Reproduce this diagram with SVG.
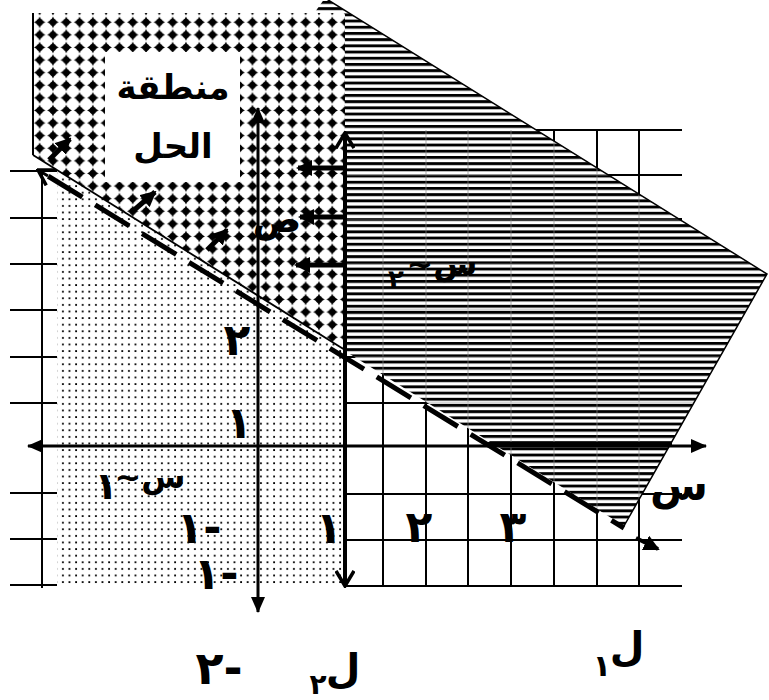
<svg xmlns="http://www.w3.org/2000/svg" width="769" height="700" viewBox="0 0 769 700">
<style>
.grid{stroke:#000;stroke-width:2;fill:none}
.faint{stroke:#888;stroke-width:1.5;opacity:.45;fill:none}
.ar{font-family:"DejaVu Sans","Noto Sans",sans-serif;font-weight:bold;fill:#000}
.axis{stroke:#000;stroke-width:3;fill:none}
</style>
<defs>
<pattern id="diam" patternUnits="userSpaceOnUse" x="33" y="16" width="13.3" height="12.6">
<rect width="13.3" height="12.6" fill="#fff"/>
<path d="M6.65,0.6 Q8.2,4.6 12.3,6.3 Q8.2,8 6.65,12 Q5.1,8 1,6.3 Q5.1,4.6 6.65,0.6 Z" fill="#000"/>
<circle cx="6.65" cy="6.3" r="3.3" fill="#000"/>
</pattern>
<pattern id="dots" patternUnits="userSpaceOnUse" x="60" y="170" width="6.6" height="6.6">
<rect width="6.6" height="6.6" fill="#fff"/>
<rect x="2" y="2" width="1.8" height="1.8" fill="#000"/>
</pattern>
<pattern id="stripes" patternUnits="userSpaceOnUse" x="0" y="1" width="10" height="6.2">
<rect width="10" height="6.2" fill="#fff"/>
<rect y="0" width="10" height="2.9" fill="#000"/>
</pattern>
<clipPath id="hclip"><polygon points="315,12 325,-2 767,274 624,526 345,351 345,12"/></clipPath>
<marker id="fa" markerUnits="userSpaceOnUse" viewBox="0 0 16 14" refX="15" refY="7" markerWidth="16" markerHeight="14" orient="auto-start-reverse">
<path d="M0,0 L16,7 L0,14 Z" fill="#000"/>
</marker>
<marker id="va" markerUnits="userSpaceOnUse" viewBox="0 0 18 20" refX="16" refY="10" markerWidth="18" markerHeight="20" orient="auto-start-reverse">
<path d="M1,1 L16,10 L1,19" fill="none" stroke="#000" stroke-width="3.5"/>
</marker>
<marker id="sa" markerUnits="userSpaceOnUse" viewBox="0 0 16 16" refX="14" refY="8" markerWidth="16" markerHeight="16" orient="auto">
<path d="M0,0 L16,8 L0,16 Z" fill="#000"/>
</marker>
</defs>

<g id="grid">
<path class="grid" d="M533,130 H682 M345,175 H682 M345,219 H682 M345,264 H682 M345,310 H682 M345,357 H682 M345,403 H682 M345,494 H682 M345,540 H682 M345,586 H682"/>
<path class="grid" d="M383,130 V586 M426,130 V586 M468,130 V586 M511,130 V586 M554,130 V586 M597,130 V586 M639,130 V586"/>
<path class="grid" d="M10,171 H57 M10,218 H57 M10,264 H57 M10,310 H57 M10,357 H57 M10,403 H57 M10,493 H57 M10,539 H57 M10,585 H57 M42,170 V588"/>
</g>

<g id="region-dots">
<polygon points="57,170 345,350 345,587 57,587" fill="url(#dots)"/>
</g>
<g id="region-solution">
<polygon points="33,13 345,13 345,350 33,155" fill="url(#diam)"/>
<path d="M33,13 V155" stroke="#000" stroke-width="2"/>
</g>
<g id="region-s2">
<polygon points="315,12 325,-2 767,274 624,526 345,351 345,12" fill="url(#stripes)"/>
<g clip-path="url(#hclip)">
<path class="faint" d="M383,130 V586 M426,130 V586 M468,130 V586 M511,130 V586 M554,130 V586 M597,130 V586 M639,130 V586 M345,175 H770 M345,219 H770 M345,264 H770 M345,310 H770 M345,357 H770 M345,403 H770"/>
</g>
<path d="M325,-2 L767,274 L624,526" fill="none" stroke="#000" stroke-width="1.5"/>
<rect x="487" y="442" width="185" height="5" fill="#000"/>
</g>

<g id="connectors">
<line x1="33" y1="155" x2="345" y2="350" stroke="#000" stroke-width="1.8"/>
<line x1="38" y1="170" x2="624" y2="528" stroke="#000" stroke-width="5" stroke-dasharray="40 15" stroke-dashoffset="-12"/>
<line x1="48" y1="176" x2="38" y2="170" stroke="#000" stroke-width="3" marker-end="url(#va)"/>
<line x1="636" y1="538" x2="658" y2="549" stroke="#000" stroke-width="4" marker-end="url(#sa)"/>
<line class="axis" x1="28" y1="446" x2="706" y2="446" marker-start="url(#fa)" marker-end="url(#fa)"/>
<line class="axis" x1="258" y1="108" x2="258" y2="612" marker-start="url(#fa)" marker-end="url(#fa)"/>
<line x1="345" y1="133" x2="345" y2="586" stroke="#000" stroke-width="4" marker-start="url(#va)" marker-end="url(#va)"/>
<g stroke="#000" stroke-width="5">
<line x1="49" y1="160" x2="70" y2="139" marker-end="url(#sa)"/>
<line x1="133" y1="211" x2="155" y2="192" marker-end="url(#sa)"/>
<line x1="207" y1="250" x2="227" y2="230" marker-end="url(#sa)"/>
<line x1="345" y1="168" x2="298" y2="168" marker-end="url(#sa)"/>
<line x1="345" y1="217" x2="300" y2="217" marker-end="url(#sa)"/>
<line x1="345" y1="265" x2="296" y2="265" marker-end="url(#sa)"/>
</g>
</g>

<g id="label-box">
<rect x="105" y="52" width="135" height="130" fill="#fff"/>
<text class="ar" x="173" y="99" font-size="34" text-anchor="middle" direction="rtl">منطقة</text>
<text class="ar" x="173" y="158" font-size="34" text-anchor="middle" direction="rtl">الحل</text>
</g>

<g id="labels">
<text class="ar" x="277" y="232" font-size="36" text-anchor="middle" direction="rtl">ص</text>
<text class="ar" x="679" y="500" font-size="42" text-anchor="middle" direction="rtl">س</text>
<text class="ar" x="237" y="355" font-size="44" text-anchor="middle">٢</text>
<text class="ar" x="239" y="438" font-size="44" text-anchor="middle">١</text>
<text class="ar" x="329" y="543" font-size="44" text-anchor="middle">١</text>
<text class="ar" x="419" y="542" font-size="44" text-anchor="middle">٢</text>
<text class="ar" x="513" y="542" font-size="44" text-anchor="middle">٣</text>
<text class="ar" x="199" y="543" font-size="44" text-anchor="middle" direction="ltr" unicode-bidi="bidi-override">١-</text>
<text class="ar" x="216" y="589" font-size="44" text-anchor="middle" direction="ltr" unicode-bidi="bidi-override">١-</text>
<text class="ar" x="219" y="684" font-size="46" text-anchor="middle" direction="ltr" unicode-bidi="bidi-override">٢-</text>
<text class="ar" x="627" y="660" font-size="40" text-anchor="middle" direction="rtl">ل</text>
<text class="ar" x="602" y="676" font-size="30" text-anchor="middle">١</text>
<text class="ar" x="343" y="682" font-size="40" text-anchor="middle" direction="rtl">ل</text>
<text class="ar" x="318" y="694" font-size="28" text-anchor="middle">٢</text>
<text class="ar" x="150" y="488" font-size="32" text-anchor="middle" direction="rtl">س~</text>
<text class="ar" x="106" y="499" font-size="38" text-anchor="middle">١</text>
<text class="ar" x="442" y="275" font-size="32" text-anchor="middle" direction="rtl">س~</text>
<text class="ar" x="396" y="288" font-size="26" text-anchor="middle">٢</text>
</g>
</svg>
